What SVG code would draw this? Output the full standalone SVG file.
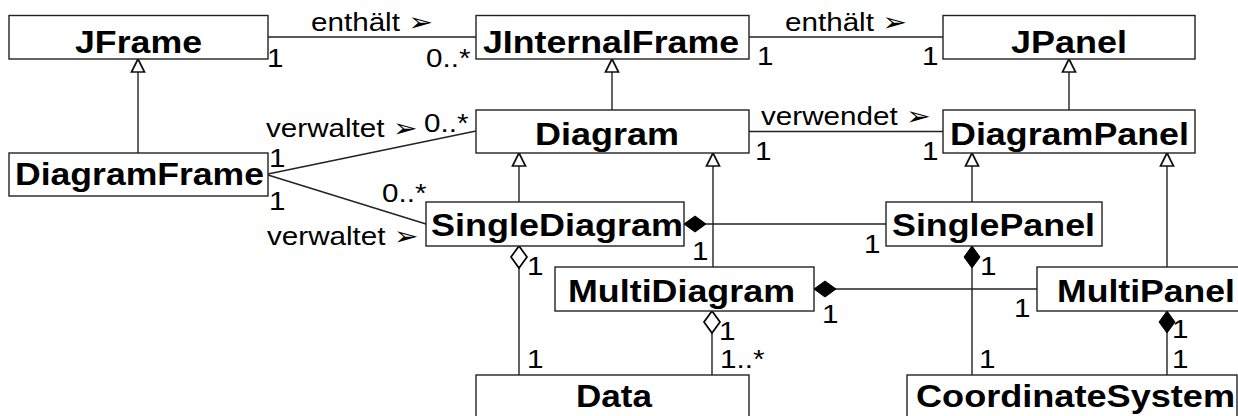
<svg xmlns="http://www.w3.org/2000/svg" width="1238" height="416" viewBox="0 0 1238 416">
  <style>
    .box { fill: #fff; stroke: #222; stroke-width: 1.4; }
    .name { font-family: "Liberation Sans", Arial, sans-serif; font-weight: bold; font-size: 30.5px; fill: #000; }
    .lbl { font-family: "Liberation Sans", Arial, "DejaVu Sans", sans-serif; font-size: 26px; fill: #000; }
    .edge { fill: none; stroke: #222; stroke-width: 1.4; }
    .gen { marker-end: url(#triangle); }
    .comp { marker-start: url(#diamondFilled); }
    .aggr { marker-start: url(#diamondHollow); }
  </style>
  <defs>
    <!-- UML generalization: hollow triangle at the parent end -->
    <marker id="triangle" markerUnits="userSpaceOnUse" markerWidth="16" markerHeight="16" refX="13" refY="6.5" orient="auto" overflow="visible">
      <path d="M13,6.5 L0,0 L0,13 Z" fill="#fff" stroke="#111" stroke-width="1.7"/>
    </marker>
    <!-- UML composition: filled diamond at the whole -->
    <marker id="diamondFilled" markerUnits="userSpaceOnUse" markerWidth="24" markerHeight="18" refX="0" refY="8" orient="auto" overflow="visible">
      <path d="M0,8 L11,0 L22,8 L11,16 Z" fill="#000" stroke="#000" stroke-width="1"/>
    </marker>
    <!-- UML aggregation: hollow diamond at the whole -->
    <marker id="diamondHollow" markerUnits="userSpaceOnUse" markerWidth="24" markerHeight="18" refX="0" refY="8" orient="auto" overflow="visible">
      <path d="M0,8 L11,0 L22,8 L11,16 Z" fill="#fff" stroke="#000" stroke-width="1.7"/>
    </marker>
  </defs>

  <!-- connectors -->
  <g id="connectors">
    <!-- associations -->
    <line class="edge" x1="268" y1="37" x2="476" y2="37"/>
    <line class="edge" x1="749" y1="37" x2="943" y2="37"/>
    <line class="edge" x1="749" y1="131.5" x2="943" y2="131.5"/>
    <line class="edge" x1="268" y1="174" x2="476" y2="131"/>
    <line class="edge" x1="268" y1="175" x2="426" y2="224"/>
    <!-- generalizations -->
    <line class="edge gen" x1="138" y1="153" x2="138" y2="59"/>
    <line class="edge gen" x1="612" y1="110" x2="612" y2="59"/>
    <line class="edge gen" x1="1069" y1="110" x2="1069" y2="59"/>
    <line class="edge gen" x1="519" y1="202" x2="519" y2="153"/>
    <line class="edge gen" x1="713" y1="267" x2="713" y2="153"/>
    <line class="edge gen" x1="972" y1="202" x2="972" y2="153"/>
    <line class="edge gen" x1="1167" y1="267" x2="1167" y2="153"/>
    <!-- compositions -->
    <line class="edge comp" x1="684" y1="224" x2="886" y2="224"/>
    <line class="edge comp" x1="814" y1="289" x2="1037" y2="289"/>
    <line class="edge comp" x1="972" y1="246" x2="972" y2="375"/>
    <line class="edge comp" x1="1167" y1="311" x2="1167" y2="375"/>
    <!-- aggregations -->
    <line class="edge aggr" x1="519" y1="246" x2="519" y2="375"/>
    <line class="edge aggr" x1="712" y1="311" x2="712" y2="375"/>
  </g>

  <!-- association labels and multiplicities -->
  <g id="labels">
    <text class="lbl" transform="translate(311,31) scale(1.14,1)">enthält ➢</text>
    <text class="lbl" transform="translate(267,67) scale(1.14,1)">1</text>
    <text class="lbl" transform="translate(426,67) scale(1.14,1)">0..*</text>
    <text class="lbl" transform="translate(785,31) scale(1.14,1)">enthält ➢</text>
    <text class="lbl" transform="translate(757,65) scale(1.14,1)">1</text>
    <text class="lbl" transform="translate(922,65) scale(1.14,1)">1</text>
    <text class="lbl" transform="translate(266,137) scale(1.14,1)">verwaltet ➢</text>
    <text class="lbl" transform="translate(424,132) scale(1.14,1)">0..*</text>
    <text class="lbl" transform="translate(761,125) scale(1.14,1)">verwendet ➢</text>
    <text class="lbl" transform="translate(755,160) scale(1.14,1)">1</text>
    <text class="lbl" transform="translate(922,160) scale(1.14,1)">1</text>
    <text class="lbl" transform="translate(269,167) scale(1.14,1)">1</text>
    <text class="lbl" transform="translate(269,210) scale(1.14,1)">1</text>
    <text class="lbl" transform="translate(382,202) scale(1.14,1)">0..*</text>
    <text class="lbl" transform="translate(267,245) scale(1.14,1)">verwaltet ➢</text>
    <text class="lbl" transform="translate(692,260) scale(1.14,1)">1</text>
    <text class="lbl" transform="translate(864,253) scale(1.14,1)">1</text>
    <text class="lbl" transform="translate(527,275) scale(1.14,1)">1</text>
    <text class="lbl" transform="translate(980,275) scale(1.14,1)">1</text>
    <text class="lbl" transform="translate(527,368) scale(1.14,1)">1</text>
    <text class="lbl" transform="translate(720,368) scale(1.14,1)">1..*</text>
    <text class="lbl" transform="translate(719,340) scale(1.14,1)">1</text>
    <text class="lbl" transform="translate(822,323) scale(1.14,1)">1</text>
    <text class="lbl" transform="translate(1014,317) scale(1.14,1)">1</text>
    <text class="lbl" transform="translate(979,368) scale(1.14,1)">1</text>
    <text class="lbl" transform="translate(1172,338) scale(1.14,1)">1</text>
    <text class="lbl" transform="translate(1172,368) scale(1.14,1)">1</text>
  </g>

  <!-- classes -->
  <g id="JFrame">
    <rect class="box" x="9" y="15.5" width="259" height="43.5"/>
    <text class="name" x="75" y="53" textLength="127" lengthAdjust="spacingAndGlyphs">JFrame</text>
  </g>
  <g id="JInternalFrame">
    <rect class="box" x="476" y="15.5" width="273" height="43.5"/>
    <text class="name" x="483" y="53" textLength="256" lengthAdjust="spacingAndGlyphs">JInternalFrame</text>
  </g>
  <g id="JPanel">
    <rect class="box" x="943" y="15.5" width="252" height="43.5"/>
    <text class="name" x="1011" y="53" textLength="116" lengthAdjust="spacingAndGlyphs">JPanel</text>
  </g>
  <g id="Diagram">
    <rect class="box" x="476" y="110" width="273" height="43"/>
    <text class="name" x="535" y="145" textLength="144" lengthAdjust="spacingAndGlyphs">Diagram</text>
  </g>
  <g id="DiagramPanel">
    <rect class="box" x="943" y="110" width="252" height="43"/>
    <text class="name" x="950" y="145" textLength="239" lengthAdjust="spacingAndGlyphs">DiagramPanel</text>
  </g>
  <g id="DiagramFrame">
    <rect class="box" x="9" y="153" width="259" height="43"/>
    <text class="name" x="15" y="185" textLength="249" lengthAdjust="spacingAndGlyphs">DiagramFrame</text>
  </g>
  <g id="SingleDiagram">
    <rect class="box" x="426" y="202" width="258" height="44"/>
    <text class="name" x="431" y="236" textLength="252" lengthAdjust="spacingAndGlyphs">SingleDiagram</text>
  </g>
  <g id="SinglePanel">
    <rect class="box" x="886" y="202" width="216" height="44"/>
    <text class="name" x="892" y="236" textLength="203" lengthAdjust="spacingAndGlyphs">SinglePanel</text>
  </g>
  <g id="MultiDiagram">
    <rect class="box" x="555" y="267" width="259" height="44"/>
    <text class="name" x="568" y="302" textLength="227" lengthAdjust="spacingAndGlyphs">MultiDiagram</text>
  </g>
  <g id="MultiPanel">
    <rect class="box" x="1037" y="267" width="215" height="44"/>
    <text class="name" x="1057" y="302" textLength="178" lengthAdjust="spacingAndGlyphs">MultiPanel</text>
  </g>
  <g id="Data">
    <rect class="box" x="476" y="375" width="273" height="50"/>
    <text class="name" x="576" y="407" textLength="76" lengthAdjust="spacingAndGlyphs">Data</text>
  </g>
  <g id="CoordinateSystem">
    <rect class="box" x="907" y="375" width="330" height="50"/>
    <text class="name" x="916" y="407" textLength="319" lengthAdjust="spacingAndGlyphs">CoordinateSystem</text>
  </g>
</svg>
